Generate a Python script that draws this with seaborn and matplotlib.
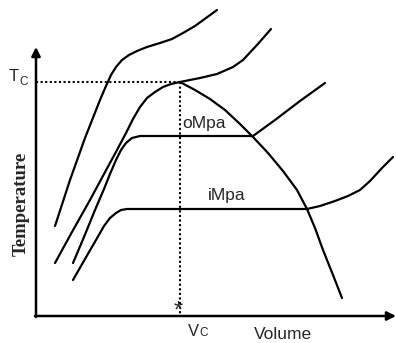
import pandas as pd
import matplotlib
matplotlib.use("Agg")
import matplotlib.pyplot as plt
import seaborn as sns

# isotherms and saturation dome (volume, temperature units)
iso_top_v = [19, 34, 49, 64, 70, 75, 80, 86, 93, 101, 111, 124, 136, 147, 159, 170, 181]
iso_top_t = [90, 136, 178, 216, 230, 241, 249, 256, 261, 265, 269, 273, 277, 283, 290, 298, 306]

iso_crit_v = [19, 36, 54, 68, 81, 90, 97, 104, 111, 119, 127, 135, 144, 164, 181, 197, 207, 221, 235]
iso_crit_t = [53, 84, 116, 142, 166, 183, 197, 209, 218, 224, 229, 232, 234, 238, 242, 249, 256, 271, 287]

iso_o_v = [37, 48, 59, 68, 74, 80, 85, 90, 96, 104, 109, 217, 239, 264, 289]
iso_o_t = [53, 79, 106, 127, 142, 156, 166, 173, 178, 180, 180, 180, 196, 215, 233]

iso_i_v = [37, 49, 60, 68, 74, 80, 85, 91, 271, 284, 299, 312, 324, 334, 346, 357]
iso_i_t = [36, 57, 76, 90, 98, 103, 106, 107, 107, 110, 115, 120, 126, 135, 148, 159]

dome_v = [144, 159, 174, 189, 204, 217, 232, 247, 261, 271, 279, 287, 297, 306]
dome_t = [234, 226, 217, 206, 192, 179, 163, 145, 126, 107, 88, 66, 41, 18]

v_crit = 144
t_crit = 234

sns.set_style("white")
plt.rcParams['font.family'] = ['Liberation Sans', 'DejaVu Sans']

fig = plt.figure(figsize=(3.96, 3.43), dpi=100)
ax = fig.add_axes([0, 0, 1, 1])

curves = [(iso_top_v, iso_top_t), (iso_crit_v, iso_crit_t), (iso_o_v, iso_o_t),
          (iso_i_v, iso_i_t), (dome_v, dome_t)]
for vv, tt in curves:
    df = pd.DataFrame({'v': vv, 't': tt})
    sns.lineplot(data=df, x='v', y='t', sort=False, estimator=None,
                 color='black', linewidth=1.6, ax=ax)

# critical point guides
ax.plot([0, v_crit], [t_crit, t_crit], color='black', lw=1.5, ls=(0, (1, 1.2)))
ax.plot([v_crit, v_crit], [t_crit, 0], color='black', lw=1.5, ls=(0, (1, 1.2)))

# axes with arrows
arrow = dict(arrowstyle='-|>', lw=1.8, color='black', mutation_scale=13,
             shrinkA=0, shrinkB=0)
ax.annotate('', xy=(0, 269), xytext=(0, -1), arrowprops=arrow)
ax.annotate('', xy=(360, 0), xytext=(-1, 0), arrowprops=arrow)

# labels
ax.text(-27, 235, 'T', fontsize=12, ha='left', va='baseline')
ax.text(-17, 231, 'C', fontsize=8.5, ha='left', va='baseline')
ax.text(152, -20, 'V', fontsize=12, ha='left', va='baseline')
ax.text(163.5, -20, 'C', fontsize=8.5, ha='left', va='baseline')
ax.text(218, -23, 'Volume', fontsize=12.5, ha='left', va='baseline')
ax.text(146, 188, 'oMpa', fontsize=12.5, ha='left', va='baseline')
ax.text(172, 116, 'iMpa', fontsize=12.5, ha='left', va='baseline')
ax.text(142, -2, '*', fontsize=17, ha='center', va='baseline')
ax.text(-15, 112, 'Temperature', fontsize=13.5, fontweight='bold', rotation=90,
        ha='center', va='center', family=['Liberation Serif', 'DejaVu Serif'])

ax.set_xlim(-36, 360)
ax.set_ylim(-27, 316)
ax.axis('off')

fig.savefig('out.png', dpi=100)
